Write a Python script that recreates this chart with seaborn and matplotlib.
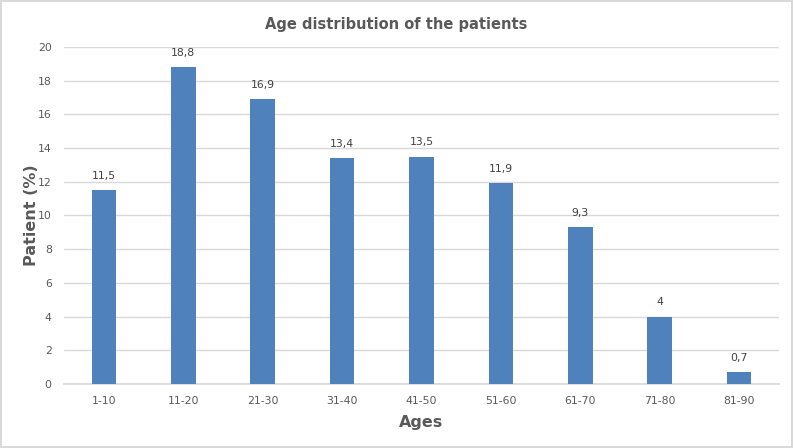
import matplotlib
matplotlib.use("Agg")
import matplotlib.pyplot as plt
import seaborn as sns
import pandas as pd

categories = ["1-10", "11-20", "21-30", "31-40", "41-50", "51-60", "61-70", "71-80", "81-90"]
values = [11.5, 18.8, 16.9, 13.4, 13.5, 11.9, 9.3, 4, 0.7]
labels = ["11,5", "18,8", "16,9", "13,4", "13,5", "11,9", "9,3", "4", "0,7"]
yticks = [0, 2, 4, 6, 8, 10, 12, 14, 16, 18, 20]

sns.set_theme(style="white")
plt.rcParams['font.family'] = ['DejaVu Sans']

df = pd.DataFrame({"Ages": categories, "Patient": values})

fig = plt.figure(figsize=(7.93, 4.48), dpi=100)
fig.patch.set_edgecolor("#d9d9d9")
fig.patch.set_linewidth(1.5)
ax = fig.add_axes([0.081, 0.143, 0.901, 0.752])

sns.barplot(data=df, x="Ages", y="Patient", color="#4F81BD", width=0.31,
            saturation=1, ax=ax, zorder=3, linewidth=0)

ax.set_ylim(0, 20)
ax.set_yticks(yticks)
ax.set_yticklabels([str(t) for t in yticks])
ax.yaxis.grid(True, color="#d9d9d9", linewidth=1, zorder=0)
ax.set_axisbelow(True)
for s in ["top", "right", "left"]:
    ax.spines[s].set_visible(False)
ax.spines["bottom"].set_color("#d9d9d9")
ax.tick_params(axis="both", length=0, colors="#595959", labelsize=7.8, pad=9)

for i, (v, lab) in enumerate(zip(values, labels)):
    ax.text(i, v + 0.55, lab, ha="center", va="bottom", fontsize=7.8, color="#404040")

ax.set_xlabel("Ages", fontsize=11.5, fontweight="bold", color="#595959", labelpad=6)
ax.set_ylabel("Patient (%)", fontsize=11.5, fontweight="bold", color="#595959")
ax.yaxis.set_label_coords(-0.036, 0.5)
fig.text(0.5, 0.945, "Age distribution of the patients", ha="center", va="center",
         fontsize=10.5, fontweight="bold", color="#595959")

fig.savefig("out.png", dpi=100, edgecolor=fig.get_edgecolor())
